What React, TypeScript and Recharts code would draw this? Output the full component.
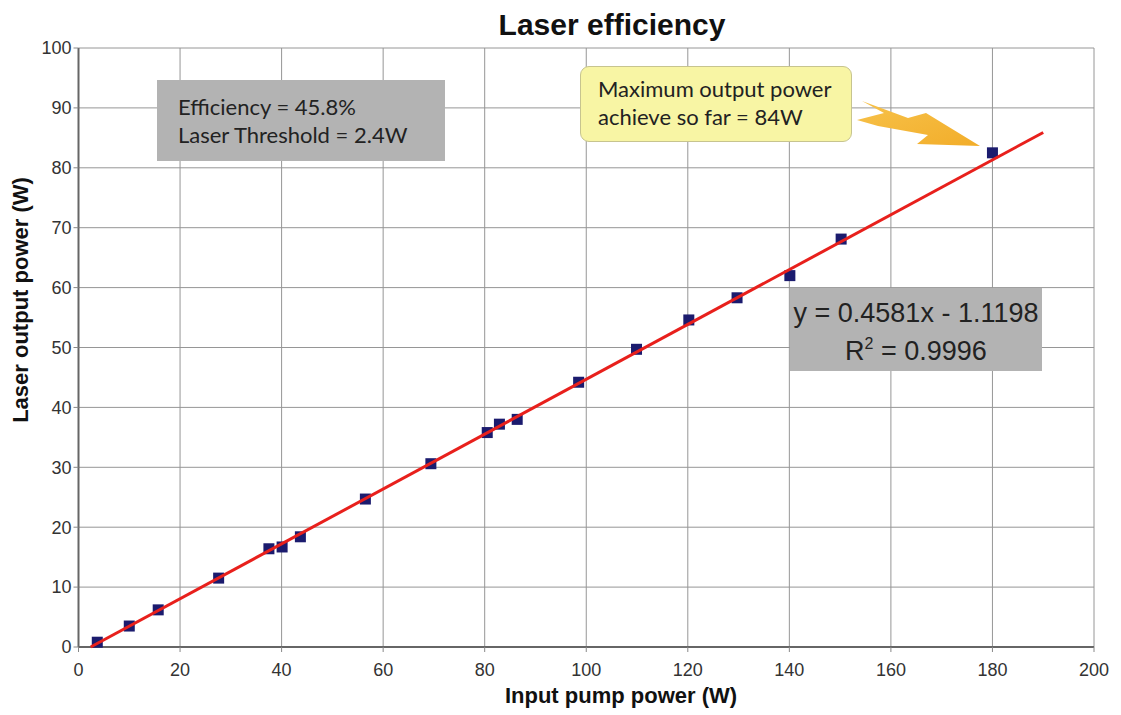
import { ScatterChart, Scatter, XAxis, YAxis, CartesianGrid, Label } from "recharts";

// measured points
const pumpPower = [3.7, 10.0, 15.7, 27.6, 37.5, 40.1, 43.7, 56.5, 69.4, 80.5, 82.9, 86.4, 98.5, 109.9, 120.2, 129.7, 140.1, 150.2, 180];
const outputPower = [0.8, 3.5, 6.2, 11.5, 16.4, 16.7, 18.4, 24.7, 30.6, 35.8, 37.2, 38.0, 44.2, 49.7, 54.6, 58.3, 62.0, 68.1, 82.5];

// linear fit end points (y = 0.4581x - 1.1198)
const trendX = [2.4, 190];
const trendY = [0, 85.9];

const xTicks = [0, 20, 40, 60, 80, 100, 120, 140, 160, 180, 200];
const yTicks = [0, 10, 20, 30, 40, 50, 60, 70, 80, 90, 100];

const points = pumpPower.map((x, i) => ({ x, y: outputPower[i] }));
const trend = trendX.map((x, i) => ({ x, y: trendY[i] }));

const ARIAL = "'Liberation Sans', Arial, sans-serif";
const MYRIAD = "Lato, 'Open Sans', sans-serif";

const Square = (props: any) => {
  const { cx, cy } = props;
  return <rect x={cx - 5.5} y={cy - 5.5} width={11} height={11} fill="#1b1b6e" />;
};

const Nothing = () => <g />;

const YTitle = ({ viewBox }: any) => {
  const cx = viewBox.x + 19;
  const cy = 300;
  return (
    <text
      x={cx}
      y={cy}
      transform={`rotate(-90 ${cx} ${cy})`}
      textAnchor="middle"
      fontFamily={ARIAL}
      fontWeight="bold"
      fontSize={22}
      fill="#111"
    >
      Laser output power (W)
    </text>
  );
};

const XTitle = ({ viewBox }: any) => (
  <text
    x={621}
    y={viewBox.y + 48}
    textAnchor="middle"
    dominantBaseline="central"
    fontFamily={ARIAL}
    fontWeight="bold"
    fontSize={22}
    fill="#111"
  >
    Input pump power (W)
  </text>
);

export default function App() {
  return (
    <div style={{ position: "absolute", left: 0, top: 0, width: 1121, height: 715, background: "#fff" }}>
      <ScatterChart width={1121} height={715} margin={{ top: 48, right: 27, bottom: 8, left: 8.5 }}>
        <CartesianGrid stroke="#969696" strokeWidth={1} />
        <XAxis
          type="number"
          dataKey="x"
          domain={[0, 200]}
          ticks={xTicks}
          height={60}
          tickSize={5}
          tickMargin={11}
          stroke="#666"
          strokeWidth={2}
          tick={{ fontFamily: ARIAL, fontSize: 18, fill: "#333" }}
          tickLine={{ stroke: "#888", strokeWidth: 1 }}
        >
          <Label content={<XTitle />} />
        </XAxis>
        <YAxis
          type="number"
          dataKey="y"
          domain={[0, 100]}
          ticks={yTicks}
          width={70}
          tickSize={5}
          tickMargin={2}
          stroke="#666"
          strokeWidth={2}
          tick={{ fontFamily: ARIAL, fontSize: 18, fill: "#333" }}
          tickLine={{ stroke: "#888", strokeWidth: 1 }}
        >
          <Label content={<YTitle />} />
        </YAxis>
        <Scatter data={points} shape={<Square />} isAnimationActive={false} />
        <Scatter
          data={trend}
          line={{ stroke: "#e8201c", strokeWidth: 3 }}
          shape={<Nothing />}
          isAnimationActive={false}
        />
      </ScatterChart>

      <div
        style={{
          position: "absolute",
          left: 0,
          width: 1121,
          top: 7,
          textAlign: "center",
          paddingLeft: 103,
          boxSizing: "border-box",
          fontFamily: ARIAL,
          fontWeight: "bold",
          fontSize: 30,
          lineHeight: "36px",
          color: "#111",
        }}
      >
        Laser efficiency
      </div>

      <div
        style={{
          position: "absolute",
          left: 157,
          top: 80,
          width: 288,
          height: 81,
          background: "#b3b3b3",
          boxSizing: "border-box",
          padding: "13px 0 0 21px",
          fontFamily: MYRIAD,
          fontSize: 22,
          lineHeight: "28px",
          color: "#222",
        }}
      >
        Efficiency = 45.8%
        <br />
        Laser Threshold = 2.4W
      </div>

      <div
        style={{
          position: "absolute",
          left: 580,
          top: 66,
          width: 272,
          height: 76,
          background: "#f8f5a4",
          border: "1.5px solid #c7c48f",
          borderRadius: 9,
          boxSizing: "border-box",
          padding: "8px 0 0 17px",
          fontFamily: MYRIAD,
          fontSize: 22,
          lineHeight: "28px",
          color: "#222",
        }}
      >
        Maximum output power
        <br />
        achieve so far = 84W
      </div>

      <svg
        width={1121}
        height={715}
        style={{ position: "absolute", left: 0, top: 0, pointerEvents: "none" }}
      >
        <defs>
          <linearGradient id="bolt" x1="0" y1="0" x2="1" y2="1">
            <stop offset="0" stopColor="#f7c24a" />
            <stop offset="1" stopColor="#f2ad2a" />
          </linearGradient>
        </defs>
        <polygon
          points="862,101 908,118 926,113 980,146 917,144 928,135 878,126 857,120 884,113"
          fill="url(#bolt)"
        />
      </svg>

      <div
        style={{
          position: "absolute",
          left: 790,
          top: 288,
          width: 252,
          height: 83,
          background: "#b3b3b3",
          boxSizing: "border-box",
          paddingTop: 6,
          textAlign: "center",
          fontFamily: ARIAL,
          fontSize: 27,
          lineHeight: "38px",
          color: "#222",
        }}
      >
        y = 0.4581x - 1.1198
        <br />
        R<sup style={{ fontSize: 16, verticalAlign: "11px", lineHeight: 0 }}>2</sup> = 0.9996
      </div>
    </div>
  );
}
